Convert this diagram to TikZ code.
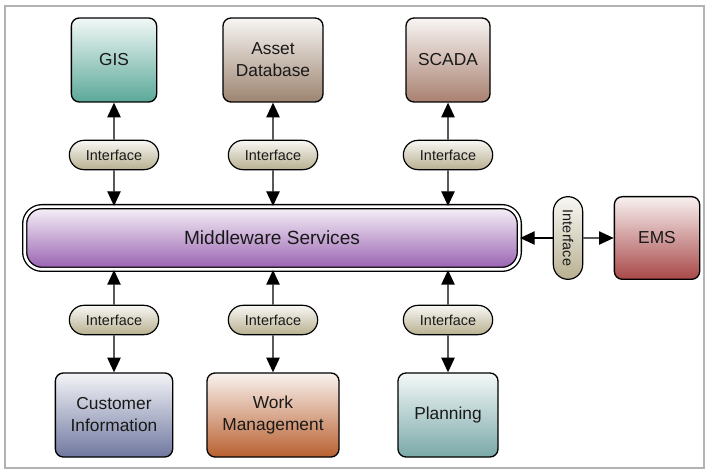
\documentclass[tikz,border=0pt]{standalone}
\usepackage{fontspec}
\setmainfont{Liberation Sans}
\usetikzlibrary{arrows.meta,shapes.misc}

\definecolor{gisc}{HTML}{5AA898}
\definecolor{assetc}{HTML}{9C8470}
\definecolor{scadac}{HTML}{A88070}
\definecolor{emsc}{HTML}{A84848}
\definecolor{midc}{HTML}{9860B0}
\definecolor{custc}{HTML}{7078A0}
\definecolor{workc}{HTML}{B86030}
\definecolor{planc}{HTML}{7AA8A8}
\definecolor{ifacec}{HTML}{B8B090}

\begin{document}
\begin{tikzpicture}[x=0.75pt, y=0.75pt,
    sysbox/.style={draw=black, line width=1pt, rounded corners=6pt, align=center,
      inner sep=0pt, text=black!90, font=\fontsize{13}{16.5}\selectfont},
    iface/.style={rounded rectangle, draw=black, line width=0.9pt, inner sep=0pt,
      top color=ifacec!10!white, bottom color=ifacec, minimum width=67pt,
      minimum height=22pt, text=black!90, font=\fontsize{10.8}{12}\selectfont},
    link/.style={line width=1pt, -{Triangle[width=10pt,length=11pt]}}]

      % Frame and page size
      \useasboundingbox (0,0) rectangle (709,-473);
      \draw[black!30, line width=1.5pt] (5,-6) rectangle (704,-468);

      % Middleware bus in the middle
      \node[sysbox, double, double distance=2pt, rounded corners=13pt,
        minimum width=371pt, minimum height=47pt, top color=midc!8!white,
        bottom color=midc, font=\fontsize{14.3}{16}\selectfont]
        (M) at (272,-238) {Middleware Services};

      \foreach \i/\x/\w/\col/\txt in {1/114/64pt/gisc/GIS, 2/273/75pt/assetc/{Asset\\Database}, 3/448/63pt/scadac/SCADA} {
          % Upper systems
          \node[sysbox, minimum width=\w, minimum height=63pt, top color=\col!8!white, bottom color=\col] (T\i) at (\x,-60) {\txt};
          % Interface between system and bus
          \node[iface] (IT\i) at (\x,-155) {Interface};
          \draw[link] (IT\i) -- (T\i);
          \draw[link] (IT\i) -- (IT\i |- M.north);
      }

      \foreach \i/\x/\w/\col/\txt in {1/114/88pt/custc/{Customer\\Information}, 2/273/99pt/workc/{Work\\Management}, 3/448/75pt/planc/Planning} {
          % Lower systems
          \node[sysbox, minimum width=\w, minimum height=63pt, top color=\col!8!white, bottom color=\col] (B\i) at (\x,-415) {\txt};
          % Interface between bus and system
          \node[iface] (IB\i) at (\x,-320) {Interface};
          \draw[link] (IB\i) -- (IB\i |- M.south);
          \draw[link] (IB\i) -- (B\i);
      }

      % EMS on the right side
      \node[iface, rotate=-90, minimum width=62pt] (IE) at (568,-238) {Interface};
      \node[sysbox, minimum width=64pt, minimum height=62pt, top color=emsc!8!white, bottom color=emsc] (E) at (657,-238) {EMS};
      \draw[link] (IE) -- (M);
      \draw[link] (IE) -- (E);

\end{tikzpicture}
\end{document}
